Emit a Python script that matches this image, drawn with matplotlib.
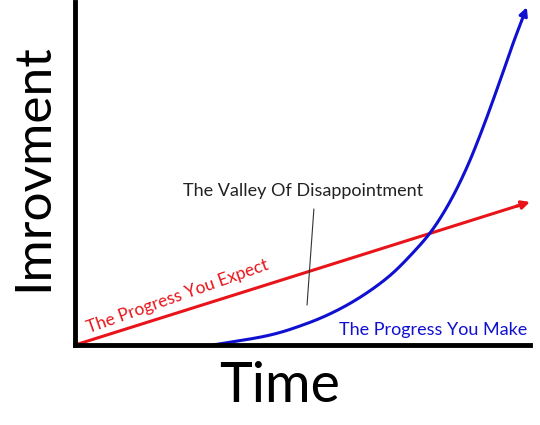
import matplotlib.pyplot as plt
import numpy as np

# expected progress: straight line
expect_x = [0.0, 10.0]
expect_y = [0.0, 4.17]

# actual progress: slow start then steep climb
make_x = [3.03, 4.22, 5.00, 5.67, 6.30, 6.90, 7.40, 7.85, 8.25, 8.62, 8.97, 9.34, 9.63, 9.93]
make_y = [0.0, 0.27, 0.58, 0.95, 1.42, 2.00, 2.65, 3.35, 4.20, 5.20, 6.35, 7.70, 8.80, 9.85]

RED = "#e8141a"
BLUE = "#1010d0"
FONT = ["Lato", "DejaVu Sans"]


def smooth(xp, yp, n=25):
    # catmull-rom through the read points
    p = np.column_stack([xp, yp])
    p = np.vstack([2 * p[0] - p[1], p, 2 * p[-1] - p[-2]])
    out = []
    t = np.linspace(0, 1, n, endpoint=False)[:, None]
    for i in range(1, len(p) - 2):
        p0, p1, p2, p3 = p[i - 1], p[i], p[i + 1], p[i + 2]
        seg = 0.5 * (2 * p1 + (p2 - p0) * t + (2 * p0 - 5 * p1 + 4 * p2 - p3) * t ** 2
                     + (3 * p1 - p0 - 3 * p2 + p3) * t ** 3)
        out.append(seg)
    out.append(p[-2][None, :])
    out = np.vstack(out)
    return out[:, 0], out[:, 1]


fig = plt.figure(figsize=(5.4, 4.25), dpi=100)
ax = fig.add_axes([75 / 540, 80 / 425, 455 / 540, 343 / 425])

# red straight line with arrow tip
ax.plot([expect_x[0], expect_x[1] - 0.2], [expect_y[0], expect_y[1] * 0.98],
        color=RED, lw=2.2, solid_capstyle="butt")
ax.annotate("", xy=(expect_x[1], expect_y[1]), xytext=(expect_x[1] - 0.3, expect_y[1] * 0.97),
            arrowprops=dict(arrowstyle="-|>", color=RED, lw=2.2, mutation_scale=12,
                            shrinkA=0, shrinkB=0))

# blue curve with arrow tip
cx, cy = smooth(make_x, make_y)
keep = cy < make_y[-1] - 0.35
ax.plot(cx[keep], cy[keep], color=BLUE, lw=2.2, solid_capstyle="butt")
ax.annotate("", xy=(cx[-1], cy[-1]), xytext=(cx[keep][-1], cy[keep][-1]),
            arrowprops=dict(arrowstyle="-|>", color=BLUE, lw=2.2, mutation_scale=12,
                            shrinkA=0, shrinkB=0))

# valley label and pointer
ax.plot([5.25, 5.10], [3.96, 1.17], color="#333333", lw=0.8)
ax.text(5.02, 4.5, "The Valley Of Disappointment", ha="center", va="center",
        fontsize=13, family=FONT, color="#222222")

ax.text(0.3, 0.35, "The Progress You Expect", ha="left", va="baseline", rotation=19.5,
        fontsize=12.5, family=FONT, color=RED, rotation_mode="anchor")
ax.text(9.95, 0.3, "The Progress You Make", ha="right", va="baseline",
        fontsize=13, family=FONT, color=BLUE)

ax.set_xlim(0, 10)
ax.set_ylim(0, 10)
ax.set_xticks([])
ax.set_yticks([])
for s in ["top", "right"]:
    ax.spines[s].set_visible(False)
for s in ["left", "bottom"]:
    ax.spines[s].set_linewidth(3.5)
    ax.spines[s].set_color("black")

fig.text(280 / 540, 1 - 386 / 425, "Time", ha="center", va="center",
         fontsize=40, family=FONT)
fig.text(33 / 540, 1 - 167 / 425, "Imrovment", ha="center", va="center", rotation=90,
         fontsize=37, family=FONT)

fig.savefig("out.png", dpi=100)
